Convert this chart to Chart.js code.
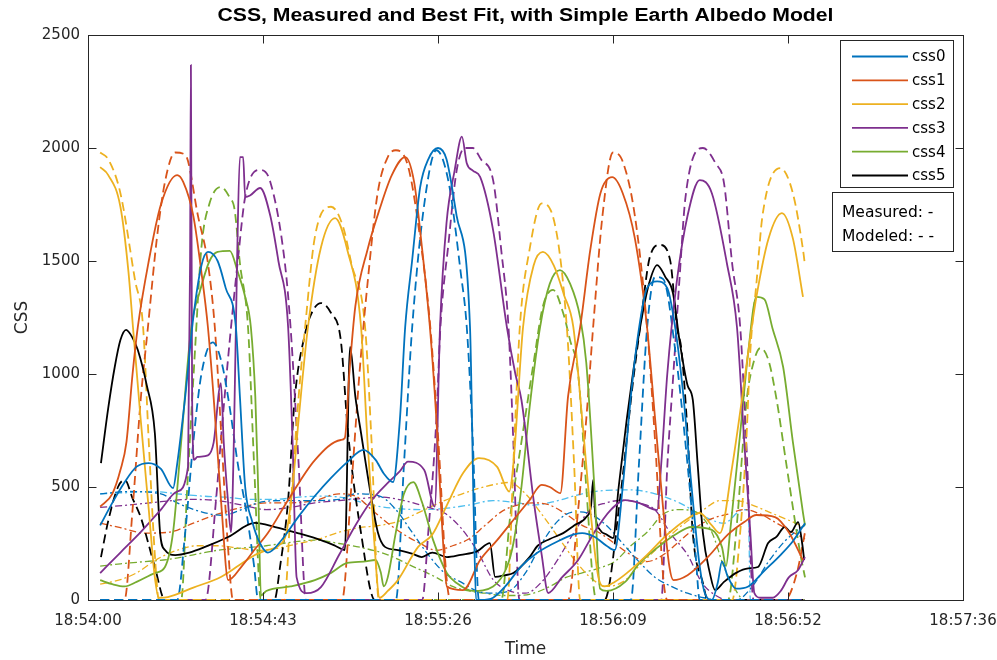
<!DOCTYPE html>
<html>
<head>
<meta charset="utf-8">
<script src="https://cdn.jsdelivr.net/npm/chart.js@4.4.1/dist/chart.umd.min.js"></script>
<style>
  html, body { margin: 0; padding: 0; background: #ffffff; }
  #graficoCss { display: block; }
</style>
</head>
<body>
<canvas id="graficoCss" width="997" height="660"></canvas>
<script>
// ============================================================================
// CSS, MEASURED AND BEST FIT, WITH SIMPLE EARTH ALBEDO MODEL
// ============================================================================

// x = seconds after 18:54:00
const xTickValues = [0, 43.2, 86.4, 129.6, 172.8, 216];
const xTickLabels = ['18:54:00', '18:54:43', '18:55:26', '18:56:09', '18:56:52', '18:57:36'];
const yTickValues = [0, 500, 1000, 1500, 2000, 2500];

const sensorNames = ['css0', 'css1', 'css2', 'css3', 'css4', 'css5'];
const chartTitle = 'CSS, Measured and Best Fit, with Simple Earth Albedo Model';
const noteLines = ['Measured: -', 'Modeled: - -'];

// measured (solid) - [seconds, counts]
const css0Measured = [[3,330],[6,430],[9,520],[12,590],[15,606],[18,580],[21,495],[22,600],[24,900],[26,1250],[28,1480],[29.6,1540],[32,1500],[34,1380],[36.5,1208],[37.5,900],[38.8,500],[40.5,350],[42.5,250],[44.4,210],[48,270],[52,370],[56,460],[60,540],[64,610],[68,664],[71,620],[73,560],[75.3,522],[77,800],[78.3,1208],[80,1500],[82,1827],[84,1950],[86.4,2000],[88.5,1950],[91,1700],[94.3,1208],[95.2,400],[95.8,0],[97,0],[100,10],[103,60],[107,150],[111,210],[116,260],[120,290],[122,296],[125,280],[128,240],[130,220],[132,500],[134,900],[136,1200],[138,1380],[140.5,1410],[143,1380],[145,1200],[147,900],[149,500],[151,150],[152.5,20],[154,0],[155.5,80],[156.5,170],[158,100],[160,50],[163,60],[167,130],[171,200],[174,260],[177,340]];
const css1Measured = [[3,413],[6,470],[8,575],[9.5,700],[11,1000],[12.3,1208],[15,1500],[18,1750],[22,1880],[23.5,1850],[26,1700],[28,1450],[29.6,1208],[31,900],[33,400],[34.6,88],[38,150],[41,220],[44.4,296],[49.4,442],[56,619],[62.4,708],[63.4,717],[64.5,1000],[66,1300],[69,1550],[72,1730],[75,1880],[78.3,1960],[80.5,1850],[82.5,1550],[84.4,1208],[86,800],[87.5,300],[88.6,60],[92.6,44],[96.8,177],[101,265],[105,354],[109,442],[112,509],[114,500],[116.6,473],[118.5,900],[121.5,1208],[124,1550],[126.5,1800],[129.4,1871],[132,1800],[135,1600],[138,1208],[140,800],[142,400],[143.5,150],[144.5,88],[148,110],[153,190],[158,290],[162,345],[165,376],[169.6,367],[173,300],[176.5,177]];
const css2Measured = [[3,1915],[5,1880],[8,1740],[10,1450],[11.1,1208],[13,800],[15,400],[16.5,100],[17.5,10],[19.7,13],[26,55],[32.8,102],[37,150],[41.2,199],[44,220],[47,240],[49,300],[50.5,500],[52,800],[54.3,1208],[57.5,1560],[61,1690],[64,1550],[67.4,1208],[69,700],[70.5,300],[72,10],[74,40],[76.5,88],[81.5,235],[85,290],[88.6,420],[92.6,562],[96.5,628],[101,589],[104,480],[105,600],[107.4,1208],[110,1480],[112.3,1540],[115,1480],[117.5,1350],[119.8,1208],[122,800],[124,400],[126,100],[127.5,60],[130,80],[133,119],[138,200],[143,290],[148,360],[151,385],[154,330],[156,296],[159,588],[161.4,885],[163,1100],[165,1341],[168,1600],[171.3,1712],[174,1600],[176.5,1341]];
const css3Measured = [[3,119],[8,210],[13,300],[18,400],[22,480],[24.7,590],[25.2,1500],[25.4,2367],[25.7,900],[26.2,620],[27,633],[29.6,640],[31,695],[32.8,960],[33.5,700],[34.5,450],[35.3,300],[36,700],[36.8,1500],[37.5,1960],[38.3,1960],[38.8,1783],[40,1790],[42.5,1823],[45,1700],[47,1500],[49.4,1208],[50.5,700],[51.5,100],[54,30],[57.5,57],[62,200],[66,330],[70,440],[74,518],[77,570],[79,612],[83,575],[85.6,413],[86.9,1208],[88.5,1668],[90.5,1900],[92.3,2050],[93.5,1933],[95,1900],[96.8,1872],[100,1637],[103.4,1208],[105.5,1000],[107,885],[110,442],[112,200],[113.6,31],[117,100],[121,177],[125,300],[129,398],[132.6,442],[136,430],[140.5,398],[141.5,600],[143,1000],[145.4,1416],[148,1700],[151,1858],[154,1800],[157.7,1491],[160.2,1208],[162,700],[163.5,300],[164.5,30],[166,10],[169,10],[171,40],[173,100],[175.3,133],[177,190]];
const css4Measured = [[3,88],[6,70],[9,60],[12,80],[16.5,119],[19,146],[21,300],[23,700],[25.5,1208],[27.5,1358],[30,1500],[32,1540],[35,1545],[37,1450],[38.8,1341],[40.2,1208],[41.3,900],[42,500],[42.7,20],[44,40],[50,60],[56,88],[60,120],[64,164],[68,170],[71,177],[72.3,120],[73,60],[74,100],[76,300],[78,470],[80.3,522],[82.5,430],[85.2,265],[88.6,119],[91,75],[95,40],[100,60],[103.4,146],[105,250],[107,500],[109,850],[111.6,1208],[114,1400],[116.5,1460],[119,1400],[121.5,1250],[123,1050],[125,500],[126.4,50],[128,40],[132.6,80],[136,160],[140.7,234],[145,290],[149,323],[154,310],[156.5,234],[157.5,150],[158.5,300],[161,739],[163,1100],[165,1341],[167,1330],[169,1200],[171.6,1031],[174,700],[176.5,385],[177,330]];
const css5Measured = [[3.2,606],[5,850],[6.6,1031],[8,1150],[9.4,1195],[11,1160],[12.3,1106],[14.5,950],[16.5,739],[17.8,296],[19,221],[21.5,199],[25,210],[28.9,235],[34.6,279],[41.2,341],[46.2,323],[52,295],[57.5,265],[61,240],[63.4,221],[64.7,1120],[66,900],[67.4,739],[69.5,500],[71.6,296],[73.3,235],[76.5,221],[80,205],[82.4,190],[85,210],[88.6,190],[92,200],[96,215],[99.2,252],[100.5,102],[103,110],[105,119],[109,190],[111,240],[114,270],[117.3,296],[120,330],[123,367],[124.2,420],[124.7,531],[125.2,380],[126.4,310],[128,290],[129.6,274],[131,500],[133,800],[134.5,1000],[136.3,1208],[138.5,1400],[140.5,1482],[142.5,1430],[144.4,1358],[146,1150],[148,950],[149.3,885],[150.5,600],[151.8,296],[153.5,120],[154.8,44],[157,80],[160,120],[163,140],[165.4,146],[167.9,252],[170,280],[172,323],[173.5,300],[175.3,345],[176.3,250],[176.8,177]];

// modeled (dashed)
const css0Modeled = [[3,0],[22,0],[24,300],[26,700],[28,1000],[30.8,1140],[33,1050],[35,850],[37,600],[39,400],[41,150],[42,0],[76,0],[78,600],[80,1200],[83,1750],[86,1990],[89,1850],[92,1450],[93.5,1208],[95,700],[96.5,0],[134,0],[136,600],[138,1200],[140,1430],[142,1420],[145,1100],[148,600],[150,200],[151,0],[177,0]];
const css1Modeled = [[3,0],[9,0],[11,400],[13,885],[14.8,1208],[17,1600],[19,1850],[21.5,1980],[24,1970],[27.2,1695],[29.6,1490],[31.3,1208],[33,700],[34.5,250],[35.8,0],[62.7,0],[65,500],[67,1000],[69,1400],[71.5,1800],[74,1960],[76,1990],[79,1920],[82,1600],[84.5,1208],[86.5,700],[88.5,100],[89.5,0],[118.5,0],[121,400],[123,800],[124.7,1208],[127,1700],[129.6,1980],[132,1940],[135,1700],[138,1208],[140,700],[142,100],[143,0],[172,0],[175,120],[177,300]];
const css2Modeled = [[3,1980],[5,1950],[8,1800],[11.6,1416],[13.6,1208],[15,700],[16.5,200],[17.5,0],[48.5,0],[50,400],[52,900],[53.6,1208],[56,1606],[60,1740],[63,1650],[65,1490],[68.4,1208],[70,700],[71.8,0],[103.5,0],[105,600],[106.6,1208],[109,1550],[112,1755],[114.8,1695],[118.2,1208],[120,600],[121.5,0],[159,0],[161,300],[162.5,700],[163.5,1100],[165,1400],[166.5,1700],[170.9,1911],[174,1800],[176.5,1550],[177,1480]];
const css3Modeled = [[3,0],[29,0],[31.6,442],[33,750],[35,1150],[37,1504],[38.8,1783],[42.5,1903],[45,1850],[48.6,1491],[50,1208],[52,600],[53.8,0],[82.5,0],[84,300],[86,800],[87,1208],[89,1580],[91,1900],[93,2000],[95,2000],[97,1950],[100,1858],[102,1550],[103.8,1208],[105,700],[106.5,0],[141.5,0],[143,590],[144.5,1000],[146,1416],[147.5,1783],[151.8,2000],[155,1930],[157,1845],[159,1491],[161,1208],[162.5,700],[164.3,0],[177,0]];
const css4Modeled = [[3,0],[23,0],[24.5,500],[26.4,1100],[28,1560],[30,1755],[32.8,1827],[35,1780],[36.2,1726],[37.5,1490],[39.5,1208],[41,600],[42.7,0],[102,0],[104.2,367],[107,700],[110,1050],[112.3,1300],[114.8,1372],[117.3,1270],[119,1150],[121,1000],[123,500],[124.7,75],[125.5,0],[158,0],[160,300],[162.6,885],[164,1031],[166,1115],[168,1060],[170,885],[172.5,588],[175.8,208],[177,100]];
const css5Modeled = [[3.2,190],[5,350],[7.4,500],[9.1,531],[11,450],[13,367],[16.5,146],[19,0],[46,0],[47.4,146],[49.4,442],[51,885],[53.6,1180],[55.5,1280],[57.5,1314],[60,1270],[62.4,1150],[64.2,739],[67.4,296],[70.8,0],[127.5,0],[131.3,442],[134.5,960],[136.3,1208],[138.7,1518],[141.2,1571],[143.7,1504],[145.4,1208],[146.5,1106],[148,739],[149.3,296],[151.8,75],[153,0],[177,0]];

// earth albedo part (dash-dot)
const css0Albedo = [[3,470],[10,480],[18,470],[22,430],[28,390],[33,375],[38,400],[42,430],[48,440],[55,440],[62,445],[66,470],[72,460],[76,400],[80,300],[84,200],[88,120],[92,80],[96,40],[100,30],[104,40],[108,120],[112,250],[116,350],[120,390],[124,380],[128,330],[132,250],[136,170],[140,100],[144,60],[148,30],[152,10],[156,0],[160,0],[164,60],[168,170],[172,260],[176,320],[177,330]];
const css1Albedo = [[3,340],[8,320],[14,296],[20,300],[26,340],[32,380],[38,410],[44,430],[50,430],[56,440],[62,470],[66,460],[70,400],[74,340],[78,290],[82,250],[86,220],[90,240],[94,270],[98,330],[102,390],[106,420],[110,430],[114,420],[118,380],[122,330],[126,300],[130,250],[134,200],[138,170],[142,200],[146,260],[150,320],[154,360],[158,380],[162,400],[166,380],[170,340],[174,300],[177,270]];
const css2Albedo = [[3,70],[8,90],[12,120],[17,180],[22,220],[27,240],[32,240],[37,230],[42,220],[47,230],[52,250],[57,270],[62,300],[67,320],[72,330],[77,350],[82,390],[88,440],[94,480],[100,510],[104,520],[108,470],[112,380],[116,280],[120,180],[124,100],[128,60],[132,80],[136,150],[140,220],[144,290],[148,350],[152,400],[156,440],[160,440],[164,420],[168,390],[172,360],[176,330],[177,320]];
const css3Albedo = [[3,410],[10,420],[18,435],[25,445],[32,440],[38,420],[44,400],[50,410],[56,430],[62,440],[68,450],[72,456],[78,440],[84,410],[88,385],[92,320],[96,220],[100,90],[104,40],[108,30],[112,80],[116,180],[120,300],[124,400],[128,430],[132,442],[136,430],[140,398],[144,290],[148,200],[151.6,75],[155,20],[158,0],[177,0]];
const css4Albedo = [[3,150],[8,160],[14,170],[20,180],[26,200],[32,220],[38,230],[44,240],[50,255],[56,265],[62,250],[68,230],[74,200],[80,150],[86,100],[90,60],[94,40],[98,30],[102,20],[106,20],[110,30],[114,60],[118,100],[122,120],[126,140],[130,170],[134,240],[138,300],[142,380],[146,400],[150,390],[154,300],[157,146],[160,40],[162,0],[177,0]];
const css5Albedo = [[3,470],[10,475],[16,480],[22,470],[28,460],[34,455],[40,445],[46,445],[52,455],[58,460],[64,450],[70,420],[76,405],[82,400],[88,405],[94,420],[100,440],[106,430],[110,420],[116,440],[122,470],[128,485],[134,487],[140,470],[146,430],[152,370],[157,340],[161,395],[163,400],[163.5,0],[177,0]];

const measuredSeries = [css0Measured, css1Measured, css2Measured, css3Measured, css4Measured, css5Measured];
const modeledSeries = [css0Modeled, css1Modeled, css2Modeled, css3Modeled, css4Modeled, css5Modeled];
const albedoSeries = [css0Albedo, css1Albedo, css2Albedo, css3Albedo, css4Albedo, css5Albedo];

// matlab default colour order, black for css5
const lineColors = ['#0072BD', '#D95319', '#EDB120', '#7E2F8E', '#77AC30', '#000000'];
const albedoColors = ['#0072BD', '#D95319', '#EDB120', '#7E2F8E', '#77AC30', '#4DBEEE'];

const FONT = '"DejaVu Sans", "Liberation Sans", Arial, sans-serif';
const AXIS_COLOR = '#262626';

function toPoints(pairs) {
    return pairs.map(p => ({ x: p[0], y: p[1] }));
}

function lineSet(label, pairs, color, dash, width) {
    return {
        label: label,
        data: toPoints(pairs),
        borderColor: color,
        backgroundColor: color,
        borderWidth: width,
        borderDash: dash,
        pointRadius: 0,
        fill: false,
        cubicInterpolationMode: 'monotone'
    };
}

const datasets = [];
sensorNames.forEach((name, i) => datasets.push(lineSet(name, measuredSeries[i], lineColors[i], [], 1.8)));
sensorNames.forEach((name, i) => datasets.push(lineSet(name + ' model', modeledSeries[i], lineColors[i], [9, 5], 1.8)));
sensorNames.forEach((name, i) => datasets.push(lineSet(name + ' albedo', albedoSeries[i], albedoColors[i], [7, 3, 2, 3], 1.3)));

// frame, inward ticks, legend boxes and title (matlab look)
const matlabFrame = {
    id: 'matlabFrame',
    afterDraw(chart) {
        const ctx = chart.ctx;
        const a = chart.chartArea;
        const xs = chart.scales.x;
        const ys = chart.scales.y;
        const L = Math.round(a.left) + 0.5, R = Math.round(a.right) + 0.5;
        const T = Math.round(a.top) + 0.5, B = Math.round(a.bottom) + 0.5;

        ctx.save();
        ctx.strokeStyle = AXIS_COLOR;
        ctx.lineWidth = 1;
        ctx.strokeRect(L, T, R - L, B - T);
        ctx.beginPath();
        xTickValues.forEach(v => {
            const px = Math.round(xs.getPixelForValue(v)) + 0.5;
            ctx.moveTo(px, B); ctx.lineTo(px, B - 8);
            ctx.moveTo(px, T); ctx.lineTo(px, T + 8);
        });
        yTickValues.forEach(v => {
            const py = Math.round(ys.getPixelForValue(v)) + 0.5;
            ctx.moveTo(L, py); ctx.lineTo(L + 8, py);
            ctx.moveTo(R, py); ctx.lineTo(R - 8, py);
        });
        ctx.stroke();

        // legend with the measured lines
        const lx = 840.5, ly = 40.5, lw = 113, lh = 147;
        ctx.fillStyle = '#ffffff';
        ctx.fillRect(lx, ly, lw, lh);
        ctx.strokeStyle = AXIS_COLOR;
        ctx.strokeRect(lx, ly, lw, lh);
        ctx.font = '15px ' + FONT;
        ctx.textAlign = 'left';
        ctx.textBaseline = 'middle';
        sensorNames.forEach((name, i) => {
            const ry = 56.5 + i * 23.8;
            ctx.strokeStyle = lineColors[i];
            ctx.lineWidth = 1.8;
            ctx.beginPath();
            ctx.moveTo(852, ry); ctx.lineTo(908, ry);
            ctx.stroke();
            ctx.fillStyle = '#000000';
            ctx.fillText(name, 912, ry + 1);
        });

        // note box
        const nx = 832.5, ny = 192.5, nw = 121, nh = 59;
        ctx.fillStyle = '#ffffff';
        ctx.fillRect(nx, ny, nw, nh);
        ctx.strokeStyle = AXIS_COLOR;
        ctx.lineWidth = 1;
        ctx.strokeRect(nx, ny, nw, nh);
        ctx.fillStyle = '#000000';
        ctx.font = '15.5px ' + FONT;
        noteLines.forEach((t, i) => ctx.fillText(t, 842, 213 + i * 24));

        // title, stretched a little like the original render
        ctx.font = 'bold 18px "Liberation Sans", Arial, sans-serif';
        ctx.textAlign = 'center';
        ctx.fillStyle = '#000000';
        const stretch = 616 / ctx.measureText(chartTitle).width;
        ctx.translate((a.left + a.right) / 2, 16);
        ctx.scale(stretch, 1);
        ctx.fillText(chartTitle, 0, 0);
        ctx.restore();
    }
};

document.addEventListener('DOMContentLoaded', function () {
    const canvas = document.getElementById('graficoCss');
    if (!canvas) return;

    new Chart(canvas.getContext('2d'), {
        type: 'line',
        data: { datasets: datasets },
        options: {
            responsive: false,
            animation: false,
            devicePixelRatio: 1,
            layout: { padding: { top: 35, right: 34, left: 0, bottom: 0 } },
            plugins: {
                legend: { display: false },
                tooltip: { enabled: false }
            },
            scales: {
                x: {
                    type: 'linear',
                    min: 0,
                    max: 216,
                    afterBuildTicks: scale => { scale.ticks = xTickValues.map(v => ({ value: v })); },
                    afterFit: scale => {
                        scale.height = 60;
                        // let the last label hang into the right margin
                        scale.paddingLeft = 0;
                        scale.paddingRight = 0;
                    },
                    grid: { display: false, drawTicks: false },
                    border: { display: false },
                    ticks: {
                        autoSkip: false,
                        maxRotation: 0,
                        padding: 12,
                        color: AXIS_COLOR,
                        font: { family: FONT, size: 15 },
                        callback: (value, index) => xTickLabels[index]
                    },
                    title: {
                        display: true,
                        text: 'Time',
                        color: AXIS_COLOR,
                        font: { family: FONT, size: 17 },
                        padding: { top: 0, bottom: 0 }
                    }
                },
                y: {
                    min: 0,
                    max: 2500,
                    afterBuildTicks: scale => { scale.ticks = yTickValues.map(v => ({ value: v })); },
                    afterFit: scale => { scale.width = 88; },
                    grid: { display: false, drawTicks: false },
                    border: { display: false },
                    ticks: {
                        padding: 8,
                        color: AXIS_COLOR,
                        font: { family: FONT, size: 15 },
                        callback: value => String(value)
                    },
                    title: {
                        display: true,
                        text: 'CSS',
                        color: AXIS_COLOR,
                        font: { family: FONT, size: 17 },
                        padding: { top: 12, bottom: 0 }
                    }
                }
            }
        },
        plugins: [matlabFrame]
    });
});
</script>
</body>
</html>
